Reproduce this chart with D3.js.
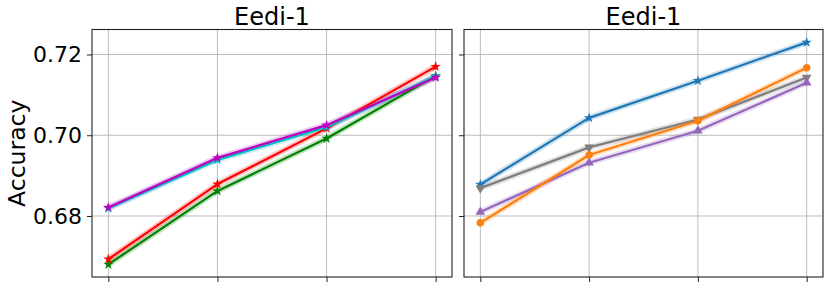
<!DOCTYPE html>
<html>
<head>
<meta charset="utf-8">
<script src="https://cdn.jsdelivr.net/npm/d3@7"></script>
<style>
  body { margin: 0; background: #fff; }
  text { font-family: "DejaVu Sans", sans-serif; }
</style>
</head>
<body>
<div id="chart"></div>
<script>
"use strict";
(function () {
    // data
    const steps = [0, 1, 2, 3]
    const yTicks = [0.68, 0.70, 0.72]
    const titles = ["Eedi-1", "Eedi-1"]

    const leftGreen = [0.6680, 0.6862, 0.6992, 0.7147]
    const leftRed = [0.6693, 0.6879, 0.7017, 0.7170]
    const leftCyan = [0.6819, 0.6939, 0.7020, 0.7146]
    const leftMagenta = [0.6821, 0.6944, 0.7025, 0.7143]

    const rightBlue = [0.6878, 0.7043, 0.7135, 0.7230]
    const rightGray = [0.6869, 0.6970, 0.7039, 0.7143]
    const rightPurple = [0.6810, 0.6932, 0.7011, 0.7130]
    const rightOrange = [0.6783, 0.6951, 0.7036, 0.7167]

    const leftSeries = [
        { values: leftGreen, color: "#008000", marker: "star" },
        { values: leftRed, color: "#ff0000", marker: "star" },
        { values: leftCyan, color: "#00bfbf", marker: "star" },
        { values: leftMagenta, color: "#bf00bf", marker: "star" }
    ]
    const rightSeries = [
        { values: rightBlue, color: "#1f77b4", marker: "star" },
        { values: rightGray, color: "#7f7f7f", marker: "down" },
        { values: rightPurple, color: "#9467bd", marker: "up" },
        { values: rightOrange, color: "#ff7f0e", marker: "circle" }
    ]

    const width = 830, height = 288
    const top = 29.5, bottom = 277

    const svg = d3.select("#chart").append("svg")
        .attr("width", width)
        .attr("height", height)

    const scaleY = d3.scaleLinear()
        .domain([0.66489, 0.72619])
        .range([bottom, top])

    const panels = [
        { left: 92, right: 452, series: leftSeries, labels: true },
        { left: 464, right: 823, series: rightSeries, labels: false }
    ]

    function markerPath(kind) {
        if (kind === "star") return d3.symbol().type(d3.symbolStar).size(34)()
        if (kind === "circle") return d3.symbol().type(d3.symbolCircle).size(44)()
        return d3.symbol().type(d3.symbolTriangle).size(40)()
    }

    panels.forEach((p, pi) => {
        const scaleX = d3.scaleLinear()
            .domain([-0.15, 3.15])
            .range([p.left, p.right])

        const g = svg.append("g")

        // grid
        g.selectAll(".gx").data(steps).enter().append("line")
            .attr("x1", d => scaleX(d)).attr("x2", d => scaleX(d))
            .attr("y1", top).attr("y2", bottom)
            .attr("stroke", "#b0b0b0").attr("stroke-opacity", 0.85).attr("stroke-width", 1)
        g.selectAll(".gy").data(yTicks).enter().append("line")
            .attr("x1", p.left).attr("x2", p.right)
            .attr("y1", d => scaleY(d)).attr("y2", d => scaleY(d))
            .attr("stroke", "#b0b0b0").attr("stroke-opacity", 0.85).attr("stroke-width", 1)

        // axes
        const yAxis = d3.axisLeft(scaleY)
            .tickValues(yTicks)
            .tickSize(5)
            .tickPadding(5)
            .tickFormat(p.labels ? d3.format(".2f") : () => "")
        const ya = g.append("g")
            .attr("transform", `translate(${p.left},0)`)
            .call(yAxis)
        ya.select(".domain").remove()
        ya.selectAll("line").attr("stroke", "#222")
        ya.selectAll("text").attr("font-size", 22).attr("fill", "#000")
            .attr("font-family", "DejaVu Sans, sans-serif")

        const xAxis = d3.axisBottom(scaleX)
            .tickValues(steps)
            .tickSize(5)
            .tickFormat(() => "")
        const xa = g.append("g")
            .attr("transform", `translate(0,${bottom})`)
            .call(xAxis)
        xa.select(".domain").remove()
        xa.selectAll("line").attr("stroke", "#222")

        // lines
        const line = d3.line()
            .x((d, i) => scaleX(steps[i]))
            .y(d => scaleY(d))

        p.series.forEach(s => {
            g.append("path")
                .attr("d", line(s.values))
                .attr("fill", "none")
                .attr("stroke", s.color)
                .attr("stroke-opacity", 0.22)
                .attr("stroke-width", 6)
                .attr("stroke-linejoin", "round")
        })
        p.series.forEach(s => {
            g.append("path")
                .attr("d", line(s.values))
                .attr("fill", "none")
                .attr("stroke", s.color)
                .attr("stroke-width", 2.2)
                .attr("stroke-linejoin", "round")
            g.selectAll(null).data(s.values).enter().append("path")
                .attr("d", markerPath(s.marker))
                .attr("transform", (d, i) => {
                    const rot = s.marker === "down" ? " rotate(180)" : ""
                    return `translate(${scaleX(steps[i])},${scaleY(d)})${rot}`
                })
                .attr("fill", s.color)
        })

        // frame
        g.append("rect")
            .attr("x", p.left).attr("y", top)
            .attr("width", p.right - p.left).attr("height", bottom - top)
            .attr("fill", "none").attr("stroke", "#222").attr("stroke-width", 1.1)

        // title
        g.append("text")
            .attr("x", (p.left + p.right) / 2)
            .attr("y", 25)
            .attr("text-anchor", "middle")
            .attr("font-size", 24)
            .text(titles[pi])
    })

    svg.append("text")
        .attr("transform", `translate(25,${(top + bottom) / 2}) rotate(-90)`)
        .attr("text-anchor", "middle")
        .attr("font-size", 23.5)
        .text("Accuracy")
})()
</script>
</body>
</html>
